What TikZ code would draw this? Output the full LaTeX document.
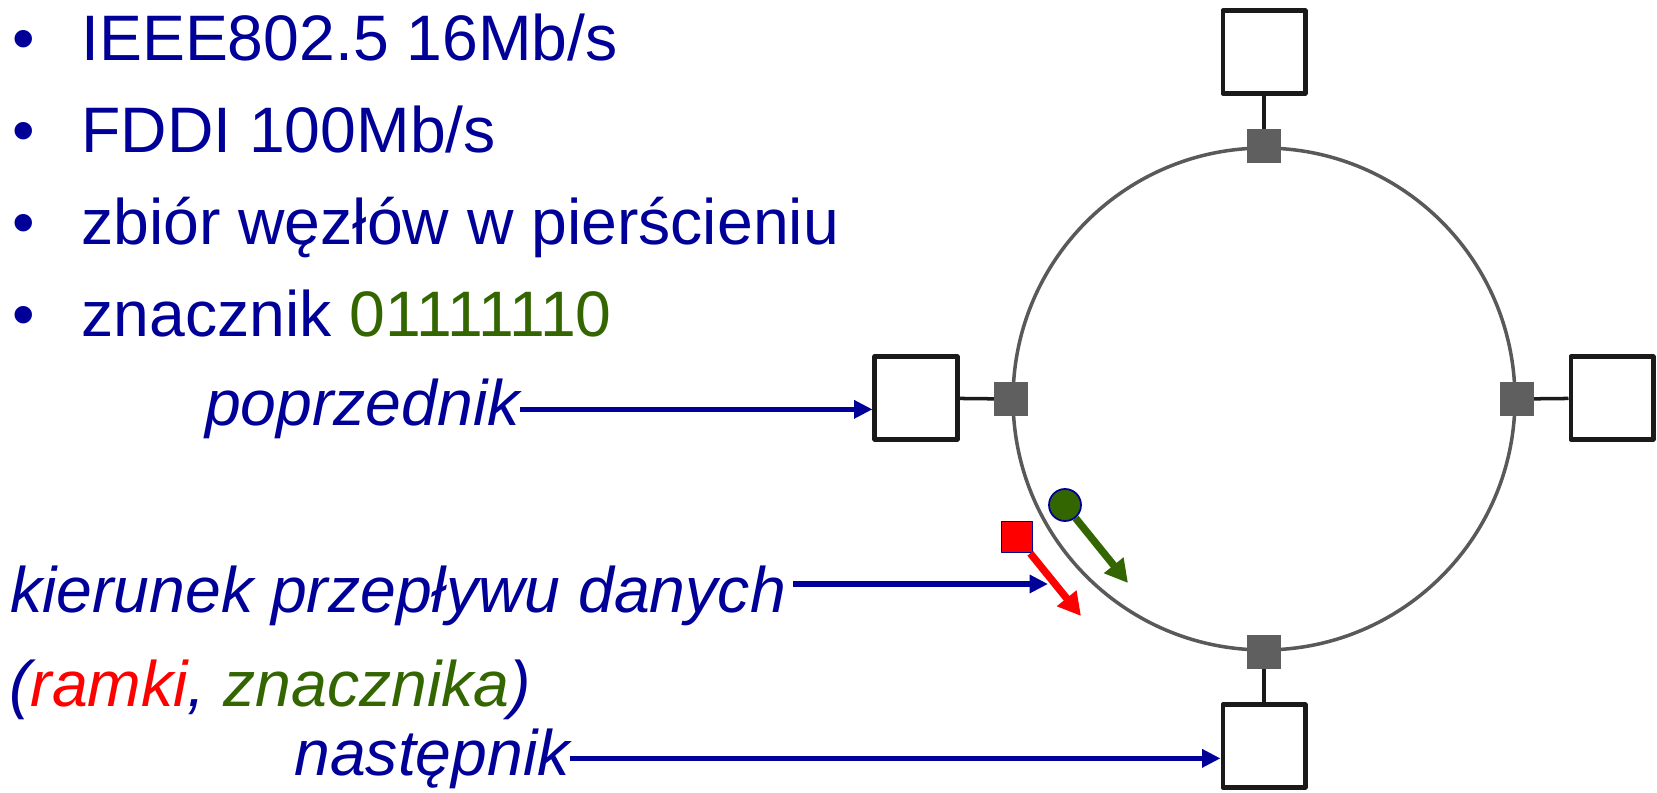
\documentclass[tikz,border=0pt]{standalone}
\usepackage{fontspec}
\setmainfont{Liberation Sans}
\usetikzlibrary{arrows.meta}
\definecolor{trnavy}{HTML}{000099}
\definecolor{trgreen}{HTML}{336600}
\definecolor{trred}{HTML}{FF0000}
\definecolor{trring}{HTML}{595959}
\definecolor{trtap}{HTML}{5F5F5F}
\definecolor{trbox}{HTML}{1A1A1A}
\tikzset{
  every picture/.style={line join=round},
  station/.style={rectangle, draw=trbox, fill=white, line width=2.3pt,
    minimum size=1.66cm, inner sep=0pt},
  tap/.style={rectangle, fill=trtap, minimum size=0.68cm, inner sep=0pt},
  link/.style={draw=trbox, line width=2pt},
  item/.style={font=\fontsize{36.6}{44}\selectfont, text=trnavy, anchor=base west, inner sep=0pt},
  lbl/.style={item, font=\fontsize{36.6}{44}\selectfont\itshape},
  ptr/.style={-{Triangle[length=10.5pt, width=10pt]}, draw=trnavy, line width=3.2pt},
  flowarrow/.style={-{Triangle[length=13pt, width=13.5pt]}, line width=4.2pt},
}

\begin{document}
\begin{tikzpicture}[x=0.02cm, y=-0.02cm]
\useasboundingbox (0, 0) rectangle (1657, 793);

% ---- bullet list
\foreach \i/\name/\text in {
  1/ieee/{IEEE802.5 16Mb/s},
  2/fddi/{FDDI 100Mb/s},
  3/nodes/{zbiór węzłów w pierścieniu},
  4/token/{znacznik \textcolor{trgreen}{01111110}}} {
  \node[item] (dot\i) at (12, -31 + 92*\i) {•};
  \node[item] (\name) at (81, -31 + 92*\i) {\text};
}

% ---- ring with its four stations
\node[circle, draw=trring, line width=2pt, minimum size=10.04cm, inner sep=0pt] (ring) at (1264, 399) {};
\foreach \d in {north, south, east, west} {
  \node[tap] (tap-\d) at (ring.\d) {};
}
\node[station] (stN) at (1264, 52) {};
\node[station] (stS) at (1264, 746) {};
\node[station] (stW) at (916, 398) {};
\node[station] (stE) at (1612, 398) {};
\foreach \s/\t in {stN/north, stS/south, stW/west, stE/east} {
  \draw[link] (\s) -- (tap-\t);
}

% ---- frame and token moving along the ring
\node[circle, fill=trgreen, draw=trnavy, line width=1pt, minimum size=0.64cm, inner sep=0pt] (tok) at (1065, 505) {};
\coordinate (tokend) at (1128, 583);
\draw[flowarrow, draw=trgreen, fill=trgreen] (tok) -- (tokend);
\node[rectangle, fill=trred, draw=trnavy, line width=1pt, minimum size=0.62cm, inner sep=0pt] (frame) at (1017, 537) {};
\coordinate (frameend) at (1081, 616);
\draw[flowarrow, draw=trred, fill=trred] (frame) -- (frameend);

% ---- labels
\node[lbl, anchor=base east] (prev) at (520, 426) {poprzednik};
\draw[ptr] (prev.east) -- (prev.east -| stW.west);
\node[lbl] (flow) at (10, 613) {kierunek przepływu danych};
\coordinate (flowpt) at (1048, 584);
\draw[ptr] ([xshift=4pt]flow.east |- flowpt) -- (flowpt);
\node[lbl] (kinds) at (9, 706) {(\textcolor{trred}{ramki}, \textcolor{trgreen}{znacznika})};
\node[lbl, anchor=base east] (next) at (570, 775) {następnik};
\draw[ptr] (next.east) -- (next.east -| stS.west);

\end{tikzpicture}
\end{document}
